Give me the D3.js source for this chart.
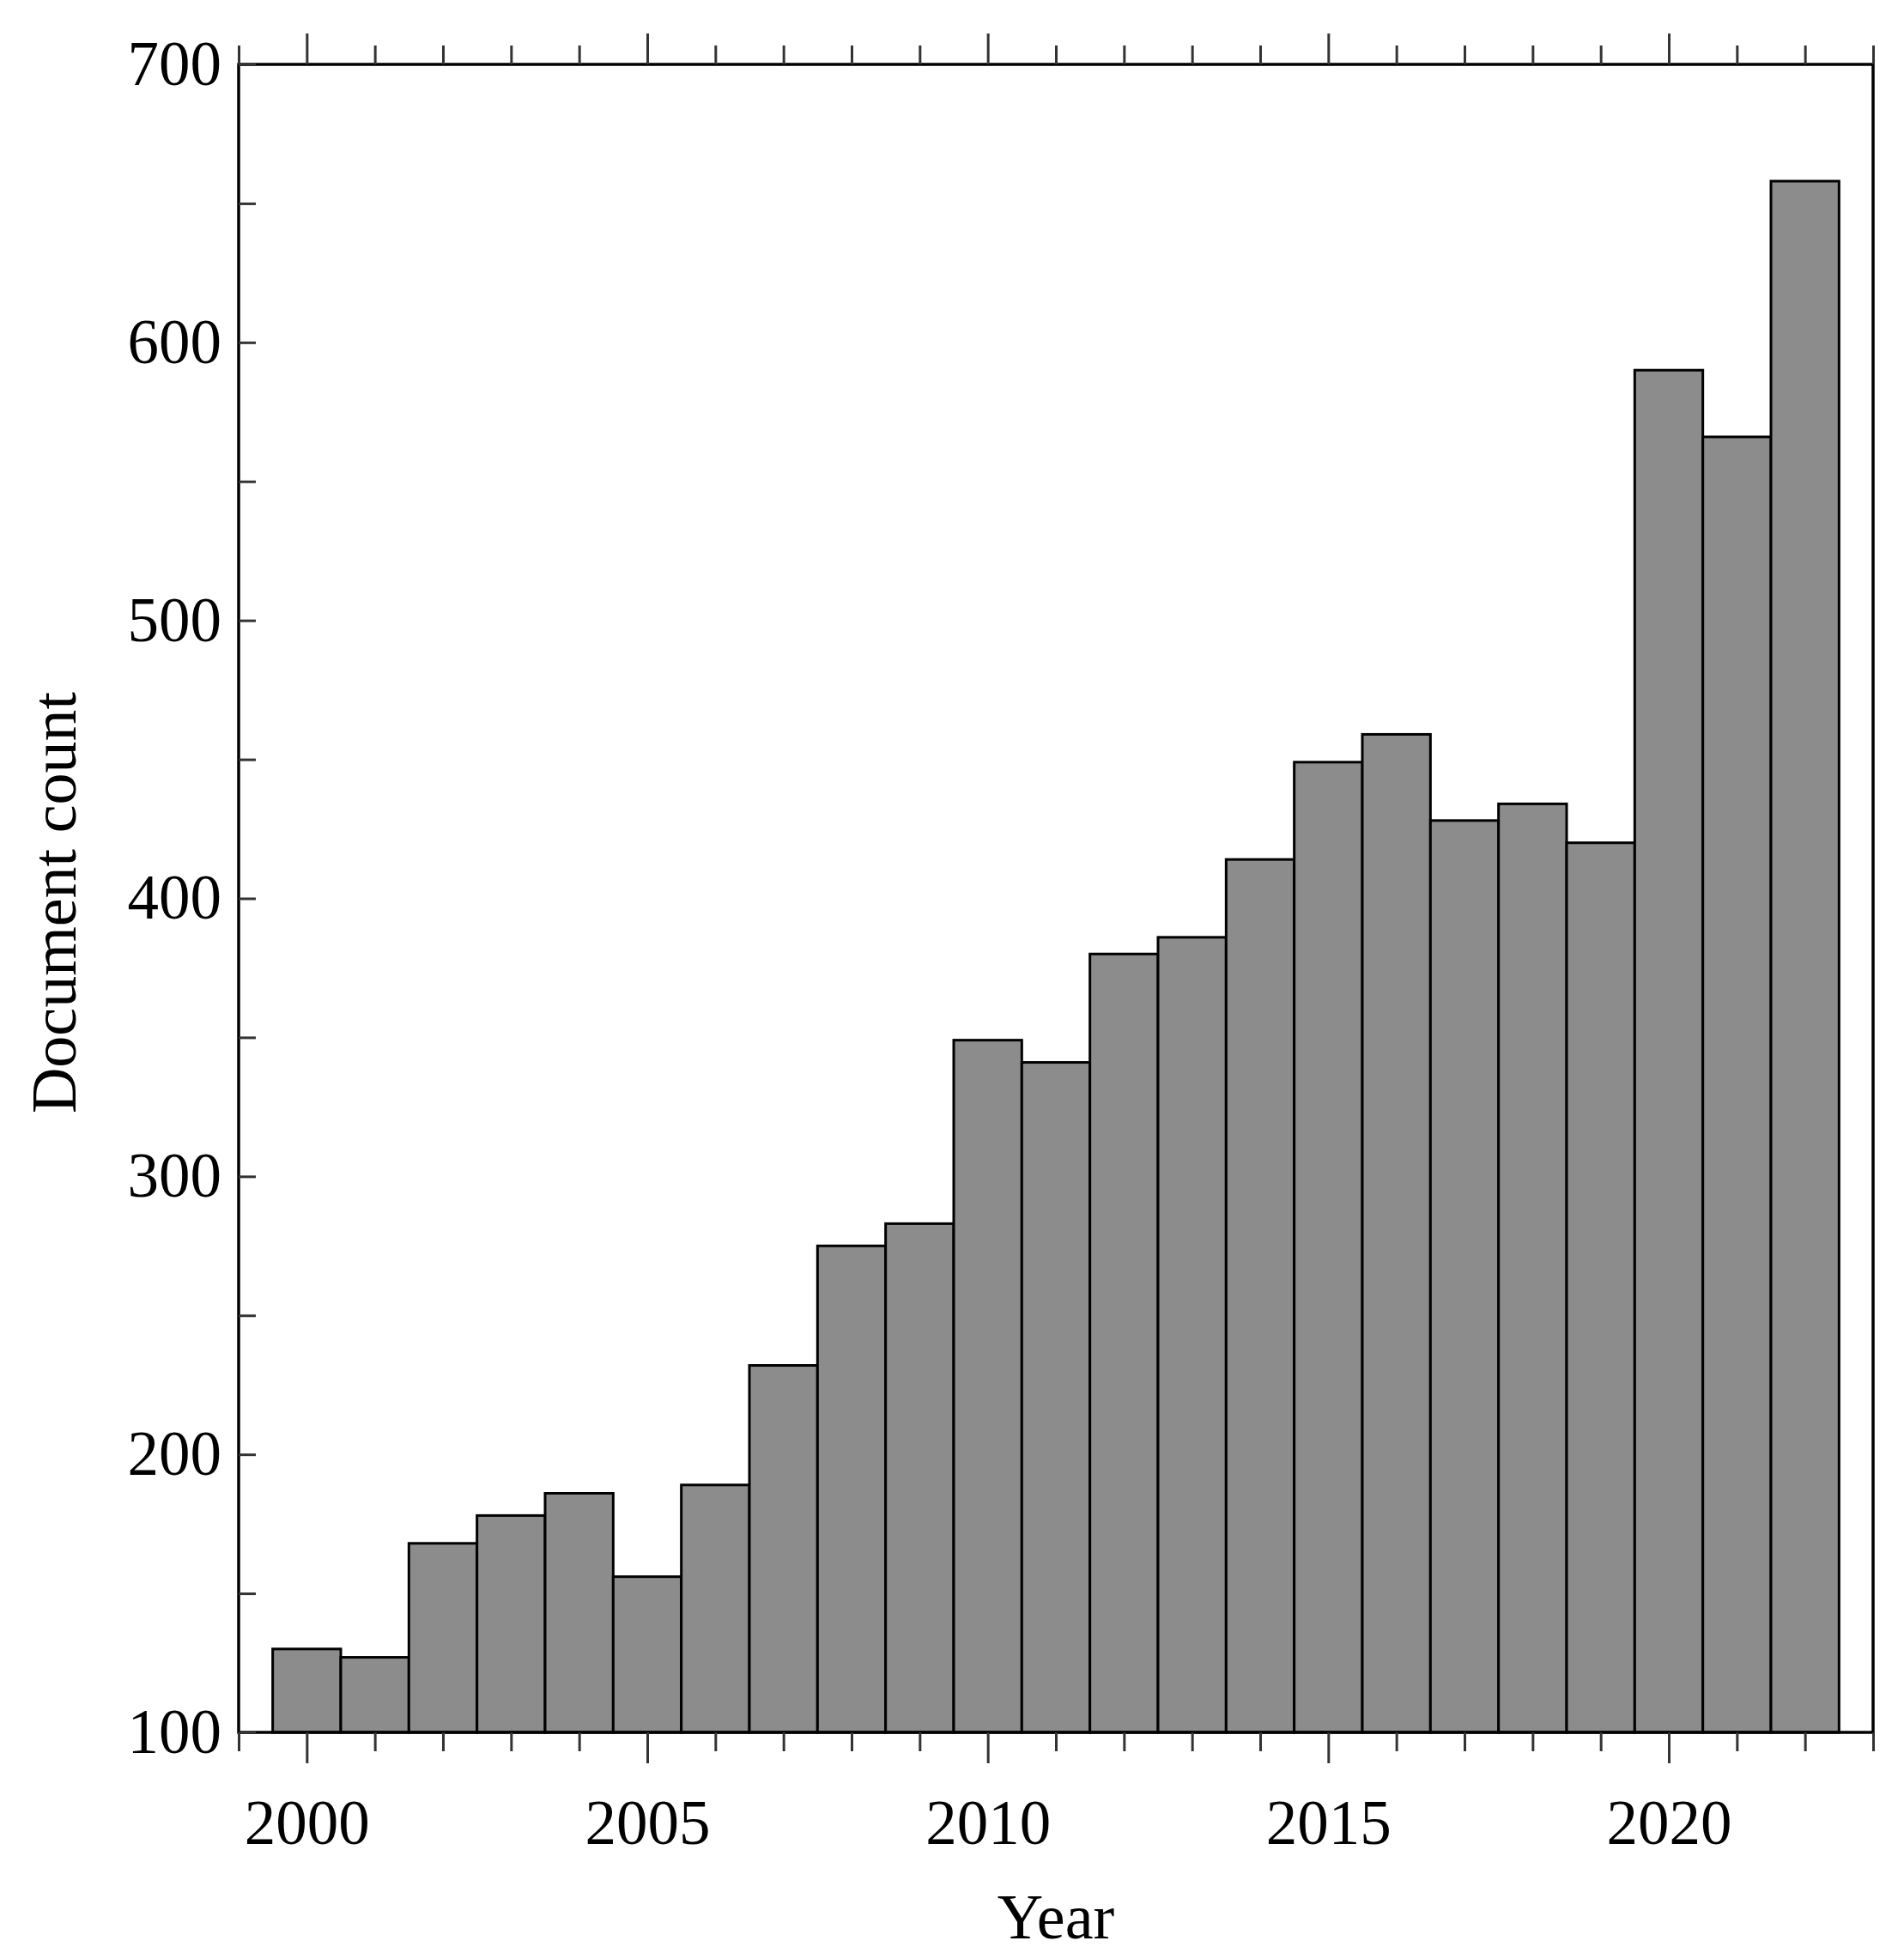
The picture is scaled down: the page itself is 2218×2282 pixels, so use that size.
<!DOCTYPE html>
<html><head><meta charset="utf-8">
<script src="https://cdn.jsdelivr.net/npm/d3@7"></script>
<style>body{margin:0;background:#fff}text{font-family:"Liberation Serif","DejaVu Serif",serif;fill:#000}</style>
</head><body><svg id="chart" width="2218" height="2282"></svg>
<script>
// ===== DATA =====
const years  = [2000,2001,2002,2003,2004,2005,2006,2007,2008,2009,2010,2011,2012,2013,2014,2015,2016,2017,2018,2019,2020,2021,2022];
const counts = [130,127,168,178,186,156,189,232,275,283,349,341,380,386,414,449,459,428,434,420,590,566,658];
const yTicks = [100,200,300,400,500,600,700];
const xTicks = [2000,2005,2010,2015,2020];

const svg = d3.select('#chart');
const L = 278, R = 2182, T = 75, B = 2018;

const x = d3.scaleLinear().domain([1999, 2023]).range([L, R]);
const y = d3.scaleLinear().domain([100, 700]).range([B, T]);

// Bars
svg.selectAll('.bar').data(years).enter().append('rect')
    .attr('x', (d) => x(d - 0.5))
    .attr('y', (d, i) => y(counts[i]))
    .attr('width', x(1) - x(0))
    .attr('height', (d, i) => B - y(counts[i]))
    .attr('fill', '#8c8c8c')
    .attr('stroke', '#000')
    .attr('stroke-width', 3);

// Frame
svg.append('rect').attr('x', L).attr('y', T).attr('width', R - L).attr('height', B - T)
    .attr('fill', 'none').attr('stroke', '#000').attr('stroke-width', 3.5);

// Axes
const yearsAll = d3.range(1999, 2024);
svg.append('g').attr('transform', `translate(0,${B})`)
    .call(d3.axisBottom(x).tickValues(yearsAll).tickSize(0).tickFormat(''))
    .call(g => g.select('.domain').remove())
    .call(g => g.selectAll('.tick line').attr('y2', d => d % 5 === 0 ? 36 : 22).attr('stroke', '#333').attr('stroke-width', 3));
svg.append('g').attr('transform', `translate(0,${B})`)
    .call(d3.axisBottom(x).tickValues(xTicks).tickSize(0).tickPadding(78).tickFormat(d3.format('d')))
    .call(g => g.select('.domain').remove())
    .call(g => g.selectAll('text').style('font-size', '73px'));
svg.append('g').attr('transform', `translate(0,${T})`)
    .call(d3.axisTop(x).tickValues(yearsAll).tickSize(0).tickFormat(''))
    .call(g => g.select('.domain').remove())
    .call(g => g.selectAll('.tick line').attr('y2', d => d % 5 === 0 ? -36 : -22).attr('stroke', '#333').attr('stroke-width', 3));

const yMinor = d3.range(100, 701, 50);
svg.append('g').attr('transform', `translate(${L},0)`)
    .call(d3.axisLeft(y).tickValues(yMinor).tickSize(0).tickFormat(''))
    .call(g => g.select('.domain').remove())
    .call(g => g.selectAll('.tick line').attr('x2', 20).attr('stroke', '#333').attr('stroke-width', 3));
svg.append('g').attr('transform', `translate(${L},0)`)
    .call(d3.axisLeft(y).tickValues(yTicks).tickSize(0).tickPadding(20))
    .call(g => g.select('.domain').remove())
    .call(g => g.selectAll('text').style('font-size', '73px'));

// Titles
svg.append('text').attr('x', (L + R) / 2).attr('y', 2258).attr('text-anchor', 'middle')
    .style('font-size', '74px').text('Year');
svg.append('text').attr('transform', `translate(88,${(T + B) / 2 + 5}) rotate(-90)`)
    .attr('text-anchor', 'middle').style('font-size', '74px').text('Document count');
</script></body></html>
